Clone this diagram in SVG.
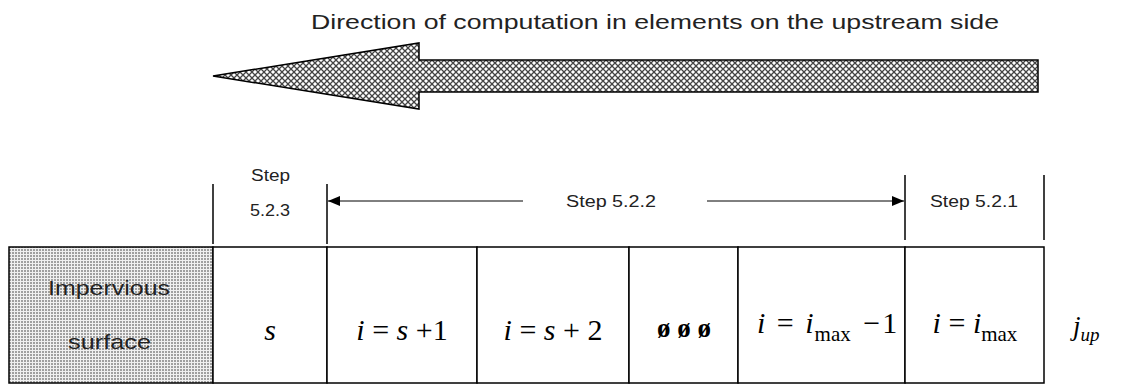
<svg xmlns="http://www.w3.org/2000/svg" width="1124" height="385" viewBox="0 0 1124 385">
<defs>
<pattern id="hatch" width="6" height="6" patternUnits="userSpaceOnUse">
<rect width="6" height="6" fill="#ffffff"/>
<path d="M0,0 L6,6 M6,0 L0,6" stroke="#444" stroke-width="1.3"/>
</pattern>
<pattern id="dots" width="3" height="3" patternUnits="userSpaceOnUse">
<rect width="3" height="3" fill="#f0f0f0"/>
<rect width="2" height="2" fill="#a0a0a0"/>
</pattern>
<marker id="ah" viewBox="0 0 12 10" refX="12" refY="5" markerWidth="12" markerHeight="10" markerUnits="userSpaceOnUse" orient="auto">
<path d="M0,0 L12,5 L0,10 z" fill="#000"/>
</marker>
</defs>
<style>
.lbl{font-family:"Liberation Sans",Arial,sans-serif;fill:#222;}
.math{font-family:"Liberation Serif","Times New Roman",serif;fill:#000;}
.it{font-style:italic;}
.cell{fill:#fff;stroke:#000;stroke-width:1.5;}
.bar{stroke:#000;stroke-width:1.5;}
</style>
<rect width="1124" height="385" fill="#fff"/>
<text class="lbl" x="311" y="29" font-size="21" textLength="688" lengthAdjust="spacingAndGlyphs">Direction of computation in elements on the upstream side</text>
<g id="big-arrow">
<path d="M1038,60 L1038,92 L419,92 L419,109 L213,76 L419,43 L419,60 Z" fill="url(#hatch)" stroke="#000" stroke-width="1.5"/>
</g>
<g id="connectors">
<line class="bar" x1="213" y1="184" x2="213" y2="244"/>
<line class="bar" x1="327" y1="184" x2="327" y2="244"/>
<line class="bar" x1="905" y1="175" x2="905" y2="240"/>
<line class="bar" x1="1044" y1="175" x2="1044" y2="240"/>
<line x1="523" y1="201" x2="328" y2="201" stroke="#000" stroke-width="1" marker-end="url(#ah)"/>
<line x1="707" y1="201" x2="904" y2="201" stroke="#000" stroke-width="1" marker-end="url(#ah)"/>
</g>
<g id="step-523"><text class="lbl" x="251" y="181" font-size="16" textLength="39" lengthAdjust="spacingAndGlyphs">Step</text><text class="lbl" x="250" y="216" font-size="16" textLength="40" lengthAdjust="spacingAndGlyphs">5.2.3</text></g>
<g id="step-522"><text class="lbl" x="566" y="207" font-size="16" textLength="90" lengthAdjust="spacingAndGlyphs">Step 5.2.2</text></g>
<g id="step-521"><text class="lbl" x="930" y="207" font-size="16" textLength="88" lengthAdjust="spacingAndGlyphs">Step 5.2.1</text></g>
<g id="impervious">
<rect x="9" y="247" width="204" height="136" fill="url(#dots)" stroke="#000" stroke-width="1.5"/>
<text class="lbl" x="48" y="295" font-size="21" textLength="122" lengthAdjust="spacingAndGlyphs" fill="#333">Impervious</text>
<text class="lbl" x="68" y="349" font-size="21" textLength="83" lengthAdjust="spacingAndGlyphs" fill="#333">surface</text>
</g>
<g id="cell-s"><rect class="cell" x="213" y="247" width="114" height="136"/><text class="math it" x="270" y="340" font-size="30" text-anchor="middle">s</text></g>
<g id="cell-s1"><rect class="cell" x="327" y="247" width="150" height="136"/><text class="math" x="402" y="340" font-size="30" text-anchor="middle"><tspan class="it">i</tspan> = <tspan class="it">s</tspan> +1</text></g>
<g id="cell-s2"><rect class="cell" x="477" y="247" width="152" height="136"/><text class="math" x="553" y="340" font-size="30" text-anchor="middle"><tspan class="it">i</tspan> = <tspan class="it">s</tspan> + 2</text></g>
<g id="cell-dots"><rect class="cell" x="629" y="247" width="109" height="136"/><text class="math" x="684" y="337" font-size="27" font-weight="bold" text-anchor="middle">ø ø ø</text></g>
<g id="cell-imax1"><rect class="cell" x="738" y="247" width="167" height="136"/><text class="math" x="757" y="333" font-size="30"><tspan class="it">i</tspan><tspan dx="4"> = </tspan><tspan class="it" dx="4">i</tspan><tspan font-size="21" dx="1" dy="8">max</tspan><tspan dx="5" dy="-8"> −</tspan><tspan dx="2">1</tspan></text></g>
<g id="cell-imax"><rect class="cell" x="905" y="247" width="139" height="136"/><text class="math" x="975" y="333" font-size="30" text-anchor="middle"><tspan class="it">i</tspan> = <tspan class="it">i</tspan><tspan font-size="21" dy="8">max</tspan></text></g>
<g id="jup"><text class="math it" x="1073" y="335" font-size="27">j<tspan font-size="19" dy="6">up</tspan></text></g>
</svg>
